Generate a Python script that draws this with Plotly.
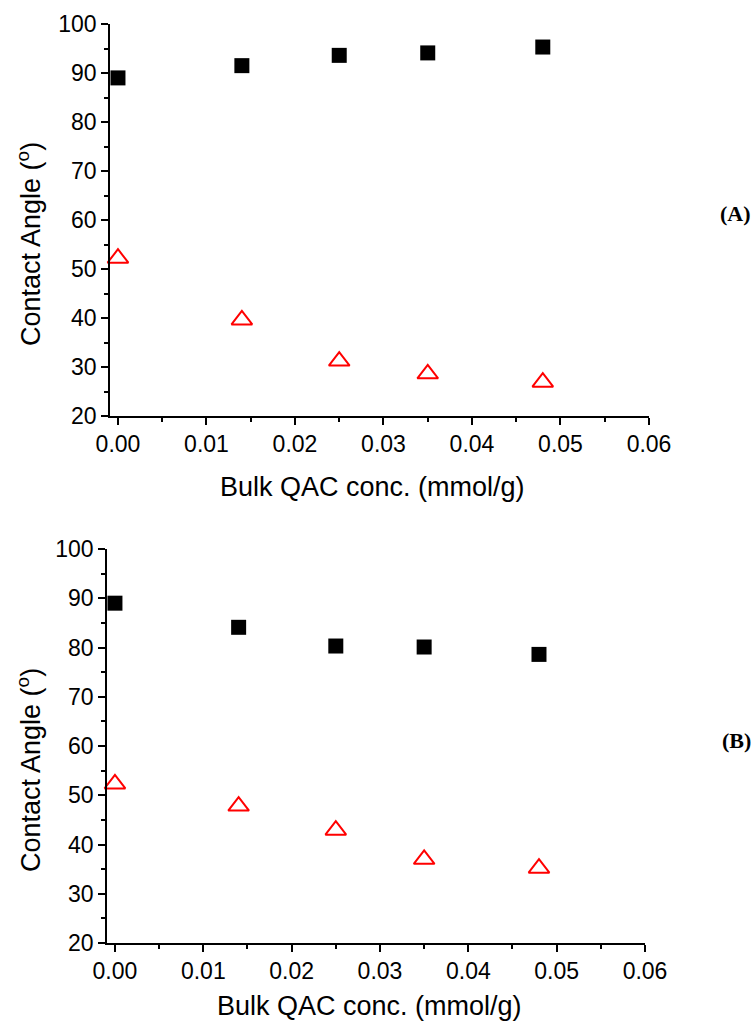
import plotly.graph_objects as go

# Data
conc = [0.0, 0.014, 0.025, 0.035, 0.048]
a_square = [89.0, 91.5, 93.6, 94.1, 95.3]
a_triangle = [52.2, 39.6, 31.2, 28.6, 26.9]
b_square = [89.0, 84.1, 80.3, 80.1, 78.6]
b_triangle = [52.3, 47.8, 42.9, 37.0, 35.2]
panel_labels = ["(A)", "(B)"]
x_title = "Bulk QAC conc. (mmol/g)"
y_title = "Contact Angle (<sup>o</sup>)"

W, H = 756, 1025
FONT = "Liberation Sans, Arial, sans-serif"

fig = go.Figure()

def add_panel(xa, ya, sq, tri):
    fig.add_trace(go.Scatter(x=conc, y=sq, mode="markers", xaxis=xa, yaxis=ya,
                             marker=dict(symbol="square", size=15, color="black",
                                         line=dict(width=0)),
                             cliponaxis=False, showlegend=False))
    fig.add_trace(go.Scatter(x=conc, y=tri, mode="markers", xaxis=xa, yaxis=ya,
                             marker=dict(symbol="triangle-up-open", size=18, color="red",
                                         line=dict(width=2, color="red")),
                             cliponaxis=False, showlegend=False))

add_panel("x", "y", a_square, a_triangle)
add_panel("x2", "y2", b_square, b_triangle)

def xaxis_style(domain, anchor):
    return dict(domain=domain, anchor=anchor, range=[-0.0009, 0.06], automargin=False,
                tickvals=[0, 0.01, 0.02, 0.03, 0.04, 0.05, 0.06],
                ticktext=["0.00", "0.01", "0.02", "0.03", "0.04", "0.05", "0.06"],
                ticks="outside", ticklen=7, tickwidth=1.5, tickcolor="black",
                minor=dict(dtick=0.005, tick0=0, ticks="outside", ticklen=4,
                           tickwidth=1.5, tickcolor="black"),
                showline=True, linecolor="black", linewidth=1.5,
                showgrid=False, zeroline=False,
                tickfont=dict(family=FONT, size=23, color="black"))

def yaxis_style(domain, anchor):
    return dict(domain=domain, anchor=anchor, range=[20, 100], automargin=False,
                tickvals=[20, 30, 40, 50, 60, 70, 80, 90, 100],
                ticks="outside", ticklen=7, tickwidth=1.5, tickcolor="black",
                minor=dict(dtick=5, tick0=0, ticks="outside", ticklen=4,
                           tickwidth=1.5, tickcolor="black"),
                showline=True, linecolor="black", linewidth=1.5,
                showgrid=False, zeroline=False,
                tickfont=dict(family=FONT, size=23, color="black"))

fig.update_layout(
    width=W, height=H,
    margin=dict(l=0, r=0, t=0, b=0, autoexpand=False),
    paper_bgcolor="white", plot_bgcolor="white",
    xaxis=xaxis_style([110 / W, 649 / W], "y"),
    yaxis=yaxis_style([1 - 416 / H, 1 - 24 / H], "x"),
    xaxis2=xaxis_style([107 / W, 645 / W], "y2"),
    yaxis2=yaxis_style([1 - 943 / H, 1 - 549 / H], "x2"),
)

# axis titles (placed as paper annotations to match the reference offsets)
for xc, yc in [(372, 487), (369, 1006)]:
    fig.add_annotation(text=x_title, xref="paper", yref="paper",
                       x=xc / W, y=1 - yc / H, xanchor="center", yanchor="middle",
                       showarrow=False,
                       font=dict(family=FONT, size=27, color="black"))
for xc, yc in [(29, 244), (29, 770)]:
    fig.add_annotation(text=y_title, xref="paper", yref="paper", textangle=-90,
                       x=xc / W, y=1 - yc / H, xanchor="center", yanchor="middle",
                       showarrow=False,
                       font=dict(family=FONT, size=27, color="black"))

for label, ypix in zip(panel_labels, [214, 740]):
    fig.add_annotation(text="<b>" + label + "</b>", xref="paper", yref="paper",
                       x=753 / W, y=1 - ypix / H, xanchor="right", yanchor="middle",
                       showarrow=False,
                       font=dict(family="Liberation Serif, Times New Roman, serif",
                                 size=22, color="black"))

fig.write_html("out.html", config={"displayModeBar": False},
               post_script="document.body.style.margin='0px';")
